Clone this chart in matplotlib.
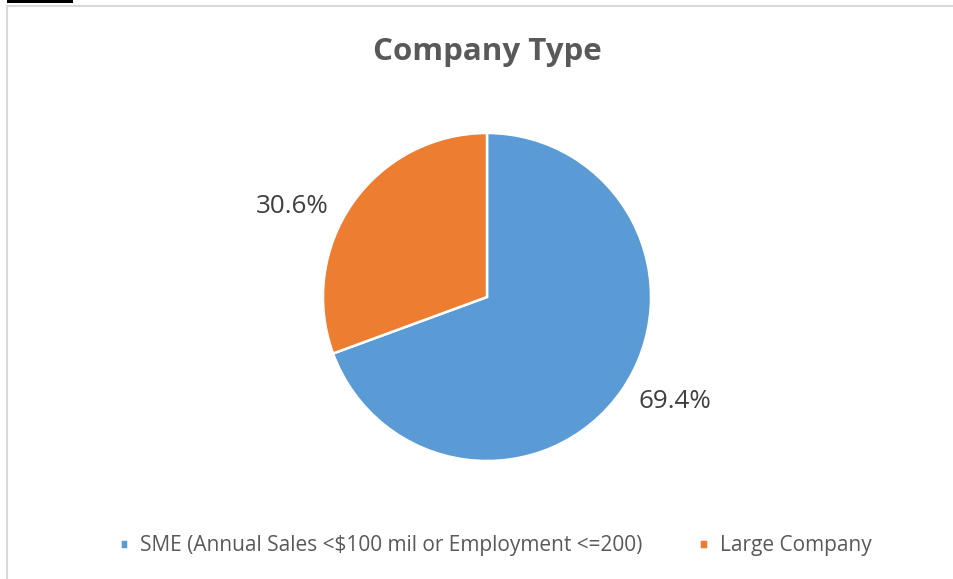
import matplotlib.pyplot as plt
import numpy as np
from matplotlib.patches import Rectangle

plt.rcParams['font.family'] = ['Open Sans', 'DejaVu Sans']

categories = ['SME (Annual Sales <$100 mil or Employment <=200)', 'Large Company']
shares = [69.4, 30.6]
colors = ['#5B9BD5', '#ED7D31']
# label angles (degrees) and radius where the percentages sit
label_angles = [-29.1, 155.2]
label_radius = 1.31

W, H = 954, 579
fig = plt.figure(figsize=(W / 100, H / 100), dpi=100)

# chart frame, runs off the right and bottom edges
fig.patches.append(Rectangle((7 / W, -0.1), 1.1, (H - 6) / H + 0.1, transform=fig.transFigure,
                             fill=False, edgecolor='#D9D9D9', linewidth=1.5))
fig.patches.append(Rectangle((7 / W, 1 - 3 / H), 66 / W, 3 / H, transform=fig.transFigure,
                             facecolor='black', edgecolor='none'))

cx, cy, r = 487, H - 297, 164
ax = fig.add_axes([(cx - r) / W, (cy - r) / H, 2 * r / W, 2 * r / H])
wedges, _ = ax.pie(shares, colors=colors, startangle=90, counterclock=False,
                   wedgeprops=dict(edgecolor='white', linewidth=1.8))
ax.set_xlim(-1, 1)
ax.set_ylim(-1, 1)

for val, ang in zip(shares, label_angles):
    t = np.deg2rad(ang)
    ax.text(label_radius * np.cos(t), label_radius * np.sin(t), f'{val}%',
            ha='center', va='center', fontsize=18.7, color='#404040')

fig.text(487.5 / W, 1 - 60 / H, 'Company Type', ha='center', va='baseline',
         fontsize=22.5, fontweight='bold', color='#595959')

leg = fig.legend(wedges, categories, loc='center', bbox_to_anchor=(495.5 / W, 1 - 546 / H),
                 ncol=2, frameon=False, fontsize=15.0, handlelength=0.42, handleheight=0.42,
                 handletextpad=0.55, columnspacing=2.75, labelcolor='#595959')

fig.savefig('out.png', dpi=100, facecolor='white')
